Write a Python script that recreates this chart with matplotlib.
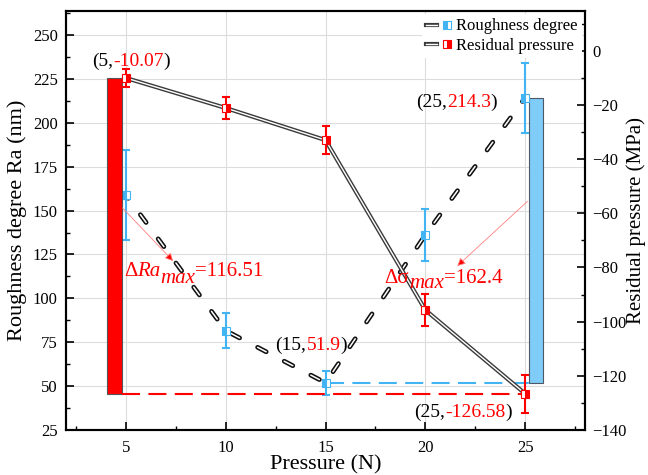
import matplotlib
matplotlib.use('Agg')
import matplotlib.pyplot as plt
import matplotlib.patheffects as pe
from matplotlib.lines import Line2D
from matplotlib.legend_handler import HandlerTuple
from matplotlib.ticker import MultipleLocator

plt.rcParams['font.family'] = ['Liberation Serif', 'DejaVu Serif']
plt.rcParams['lines.scale_dashes'] = False

# Measured data
pressure = [5, 10, 15, 20, 25]
roughness = [158.9, 81.6, 51.9, 136.1, 214.3]
roughness_err = [25.7, 10.0, 6.7, 14.9, 20.0]
residual = [-10.07, -21.15, -33.0, -95.7, -126.58]
residual_err = [3.2, 4.0, 5.3, 6.0, 7.0]

series_labels = ['Roughness degree', 'Residual pressure']

blue = '#42b4f4'
blue_bar = '#80ccf9'
red = '#ff0000'
pink = '#ff8080'

fig = plt.figure(figsize=(6.48, 4.75), dpi=100)
ax = fig.add_axes([66 / 648, 45 / 475, 519 / 648, 419 / 475])
ax2 = ax.twinx()

ax.set_xlim(2, 28)
ax.set_ylim(25, 263.7)
ax2.set_ylim(-140, 14.65)

ax.set_axisbelow(True)
ax.grid(True, which='major', color='#dcdcdc', lw=0.8)

# range bars
r_max, r_min = max(residual), min(residual)
g_max, g_min = max(roughness), min(roughness)
ax2.bar(4.43, r_max - r_min, bottom=r_min, width=0.8, color=red,
        edgecolor='#555555', lw=0.8, zorder=2)
ax.bar(25.53, g_max - g_min, bottom=g_min, width=0.72, color=blue_bar,
       edgecolor='#4d5866', lw=0.8, zorder=2)

# guide lines at the minima
ax2.plot([4.8, 25], [r_min, r_min], color=red, lw=1.5, ls=(0, (13, 6)), zorder=2)
ax.plot([15, 25.5], [g_min, g_min], color=blue, lw=1.5, ls=(0, (13, 6)), zorder=3)

# connecting lines (outlined double-line look)
ax.plot(pressure, roughness, color='white', lw=1.1, ls=(4, (7, 14.6)),
        dash_capstyle='round',
        path_effects=[pe.Stroke(linewidth=3.4, foreground='#111111'), pe.Normal()],
        zorder=4)
ax2.plot(pressure, residual, color='white', lw=1.0,
         path_effects=[pe.Stroke(linewidth=3.0, foreground='#3a3a3a'), pe.Normal()],
         zorder=3)

# error bars and half-filled markers
ax.errorbar(pressure, roughness, yerr=roughness_err, fmt='none', ecolor=blue,
            elinewidth=1.5, capsize=3, capthick=1.5, zorder=5)
ax.plot(pressure, roughness, ls='none', marker='s', ms=6, fillstyle='left',
        markerfacecolor=blue, markerfacecoloralt='white', markeredgecolor=blue,
        mew=0.8, zorder=6)
ax2.errorbar(pressure, residual, yerr=residual_err, fmt='none', ecolor=red,
             elinewidth=1.5, capsize=3, capthick=1.5, zorder=5)
ax2.plot(pressure, residual, ls='none', marker='s', ms=6, fillstyle='right',
         markerfacecolor=red, markerfacecoloralt='white', markeredgecolor=red,
         mew=0.8, zorder=6)

# arrows from range bars to their labels
def arrow(start, end):
    ax2.annotate('', xy=end, xytext=start, xycoords=ax.transData,
                 textcoords=ax.transData,
                 arrowprops=dict(arrowstyle='-|>', ec=pink, fc=red, lw=0.6,
                                 shrinkA=0, shrinkB=0, mutation_scale=12),
                 zorder=7)

arrow((4.83, 151.5), (7.37, 121.2))
arrow((25.12, 155.3), (21.6, 118.4))

# multi-coloured text built from consecutive pieces
def rich_text(x, y, pieces, size):
    prev = None
    for s, color, style, dy in pieces:
        if prev is None:
            prev = ax2.text(x, y, s, color=color, fontsize=size, style=style,
                            transform=ax.transData, ha='left', va='baseline',
                            zorder=8)
        else:
            prev = ax2.annotate(s, xy=(1, 0), xycoords=prev, xytext=(0, dy),
                                textcoords='offset points', color=color,
                                fontsize=size, style=style, ha='left',
                                va='bottom', zorder=8)

rich_text(3.29, 232.5, [('(5,', 'black', 'normal', 0),
                        (f'{residual[0]:.2f}', red, 'normal', 0),
                        (')', 'black', 'normal', 0)], 14)
rich_text(19.53, 208.8, [('(25,', 'black', 'normal', 0),
                         (f'{roughness[4]:.1f}', red, 'normal', 0),
                         (')', 'black', 'normal', 0)], 14)
rich_text(12.5, 70.6, [('(15,', 'black', 'normal', 0),
                       (f'{roughness[2]:.1f}', red, 'normal', 0),
                       (')', 'black', 'normal', 0)], 14)
rich_text(19.45, 32.6, [('(25,', 'black', 'normal', 0),
                        (f'{residual[4]:.2f}', red, 'normal', 0),
                        (')', 'black', 'normal', 0)], 14)
rich_text(4.9, 112.7, [('\u0394', red, 'normal', 0),
                       ('Ra', red, 'italic', 0),
                       ('max', red, 'italic', -5),
                       (f'={r_max - r_min:.2f}', red, 'normal', 5)], 15)
rich_text(17.95, 108.9, [('\u0394\u03c3', red, 'normal', 0),
                         ('max', red, 'italic', -4),
                         (f'={g_max - g_min:.1f}', red, 'normal', 4)], 15)

# axes styling
ax.xaxis.set_major_locator(MultipleLocator(5))
ax.xaxis.set_minor_locator(MultipleLocator(2.5))
ax.yaxis.set_major_locator(MultipleLocator(25))
ax.yaxis.set_minor_locator(MultipleLocator(12.5))
ax2.yaxis.set_major_locator(MultipleLocator(20))
ax2.yaxis.set_minor_locator(MultipleLocator(10))

for a in (ax, ax2):
    for sp in a.spines.values():
        sp.set_linewidth(1.5)

ax.tick_params(axis='both', which='both', direction='in', top=False, right=False,
               labelsize=12)
ax.tick_params(which='major', length=6, width=1.2)
ax.tick_params(which='minor', length=3, width=1.0)
ax.tick_params(axis='x', pad=7)
ax.tick_params(axis='y', pad=6)
ax2.tick_params(axis='y', which='both', direction='in', labelsize=12, pad=5)
ax2.tick_params(axis='y', which='major', length=6, width=1.2)
ax2.tick_params(axis='y', which='minor', length=3, width=1.0)

ax.set_xlabel('Pressure (N)', fontsize=16, labelpad=0)
ax.set_ylabel('Roughness degree Ra (nm)', fontsize=16, labelpad=4)
ax2.set_ylabel('Residual pressure (MPa)', fontsize=15, labelpad=0)

# legend
def double_line():
    return Line2D([], [], color='white', lw=1.0,
                  path_effects=[pe.Stroke(linewidth=3.0, foreground='#3a3a3a'),
                                pe.Normal()])

h_rough = (double_line(),
           Line2D([], [], ls='none', marker='s', ms=6, fillstyle='left',
                  markerfacecolor=blue, markerfacecoloralt='white',
                  markeredgecolor=blue, mew=0.8))
h_resid = (double_line(),
           Line2D([], [], ls='none', marker='s', ms=6, fillstyle='right',
                  markerfacecolor=red, markerfacecoloralt='white',
                  markeredgecolor=red, mew=0.8))
leg = ax2.legend([h_rough, h_resid], series_labels,
                 handler_map={tuple: HandlerTuple(ndivide=None)},
                 loc='upper right', fontsize=12, frameon=True, fancybox=False,
                 edgecolor='none', facecolor='white', framealpha=1,
                 handlelength=1.6, handletextpad=0.2, labelspacing=0.2,
                 borderpad=0.25, borderaxespad=0.2)
leg.set_zorder(10)

fig.savefig('out.png', dpi=100)
